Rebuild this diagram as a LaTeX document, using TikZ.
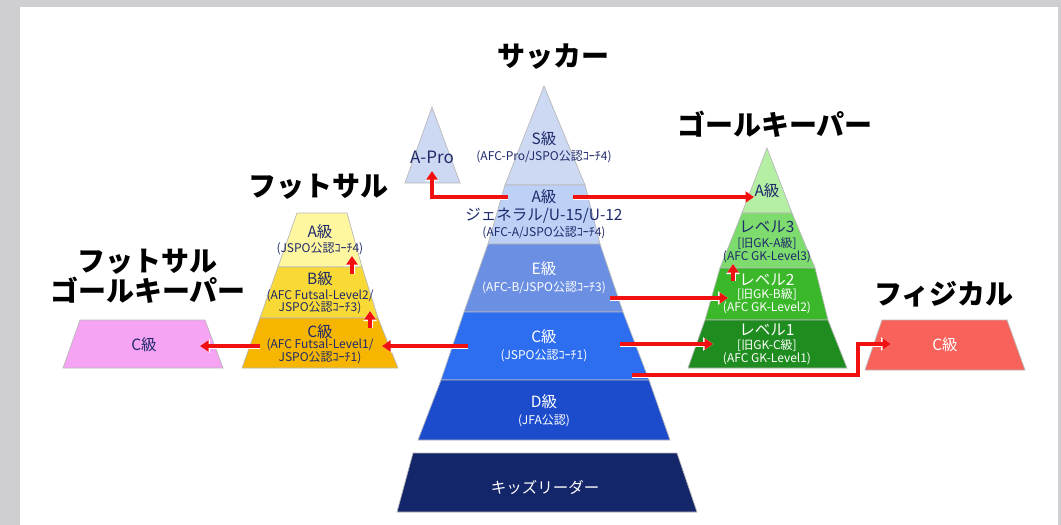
\documentclass[tikz,border=0pt]{standalone}
\usepackage{fontspec}
\setmainfont{Noto Sans CJK JP}
\newfontfamily\jp{Noto Sans CJK JP}
\usetikzlibrary{arrows.meta}
\definecolor{bggray}{HTML}{CFCFD2}
\definecolor{navy}{HTML}{1F2A6B}
\definecolor{sS}{HTML}{CDD9F3}
\definecolor{sA}{HTML}{BDD0F5}
\definecolor{sE}{HTML}{6A8FE3}
\definecolor{sC}{HTML}{2D6EF0}
\definecolor{sD}{HTML}{1C4CCC}
\definecolor{sK}{HTML}{14266A}
\definecolor{gA}{HTML}{B4EFA4}
\definecolor{g3}{HTML}{7DDC6D}
\definecolor{g2}{HTML}{3AB82A}
\definecolor{g1}{HTML}{1F8C1F}
\definecolor{fA}{HTML}{FFF7A0}
\definecolor{fB}{HTML}{F8D936}
\definecolor{fC}{HTML}{F6B600}
\definecolor{pinkc}{HTML}{F5A3F2}
\definecolor{physc}{HTML}{F8625A}
\definecolor{arr}{HTML}{F01010}
\tikzset{
  layer/.style={draw=gray!55, line width=0.7pt},
  ttl/.style={font=\jp\bfseries\fontsize{28}{28}\selectfont, text=black, inner sep=0pt},
  big/.style={font=\jp\fontsize{15.5}{16}\selectfont, inner sep=0pt},
  sml/.style={font=\jp\fontsize{12}{13}\selectfont, inner sep=0pt},
  redarrow/.style={draw=arr, line width=3.2pt, -{Triangle[length=8.5pt,width=11pt]},
     preaction={draw=white, line width=5pt, -{Triangle[length=10pt,width=13pt]}}},
}
\begin{document}
\begin{tikzpicture}[x=1pt,y={(0pt,-1pt)}]
\useasboundingbox (0,0) rectangle (1061,525);
\fill[bggray] (0,0) rectangle (1061,525);
\fill[white] (20,7) rectangle (1058,525);

% ---------- Soccer pyramid ----------
\filldraw[layer, fill=sS] (544,86) -- (585,185) -- (505,185) -- cycle;
\filldraw[layer, fill=sA] (505,185) -- (585,185) -- (600,244) -- (488,244) -- cycle;
\filldraw[layer, fill=sE] (488,244) -- (600,244) -- (623,312) -- (464,312) -- cycle;
\filldraw[layer, fill=sC] (464,312) -- (623,312) -- (649,380) -- (441,380) -- cycle;
\filldraw[layer, fill=sD] (441,380) -- (649,380) -- (670,440) -- (418,440) -- cycle;
\filldraw[layer, fill=sK] (413,453) -- (677,453) -- (697,512) -- (397,512) -- cycle;

% A-Pro
\filldraw[layer, fill=sS] (432,107) -- (460,183) -- (405,183) -- cycle;
\node[font=\jp\fontsize{17}{17}\selectfont, text=navy, inner sep=0pt] (apro) at (432,157) {A-Pro};

\node[ttl] (tsoccer) at (553,57) {サッカー};
\node[big, text=navy] (sS1) at (544,139) {S級};
\node[sml, text=navy] (sS2) at (544,157) {(AFC-Pro/JSPO公認ｺｰﾁ4)};
\node[big, text=navy] (sA1) at (544,197) {A級};
\node[big, text=navy] (sA2) at (544,216) {ジェネラル/U-15/U-12};
\node[sml, text=navy] (sA3) at (544,233) {(AFC-A/JSPO公認ｺｰﾁ4)};
\node[big, text=white] (sE1) at (544,269) {E級};
\node[sml, text=white] (sE2) at (544,288) {(AFC-B/JSPO公認ｺｰﾁ3)};
\node[big, text=white] (sC1) at (544,337) {C級};
\node[sml, text=white] (sC2) at (544,356) {(JSPO公認ｺｰﾁ1)};
\node[big, text=white] (sD1) at (544,402) {D級};
\node[sml, text=white] (sD2) at (544,421) {(JFA公認)};
\node[big, text=white] (sK1) at (545,487) {キッズリーダー};

% ---------- Goalkeeper pyramid ----------
\node[ttl] (tgk) at (775,124) {ゴールキーパー};
\filldraw[layer, fill=gA] (767,148) -- (792,213) -- (742,213) -- cycle;
\filldraw[layer, fill=g3] (742,213) -- (792,213) -- (815,268) -- (720,268) -- cycle;
\filldraw[layer, fill=g2] (720,268) -- (815,268) -- (828,320) -- (705,320) -- cycle;
\filldraw[layer, fill=g1] (705,320) -- (828,320) -- (847,368) -- (688,368) -- cycle;
\node[big, text=navy] (gA1) at (767,191) {A級};
\node[big, text=navy] (g31) at (767,227) {レベル3};
\node[sml, text=navy] (g32) at (767,243) {[旧GK-A級]};
\node[sml, text=navy] (g33) at (767,257) {(AFC GK-Level3)};
\node[big, text=white] (g21) at (767,280) {レベル2};
\node[sml, text=white] (g22) at (767,294) {[旧GK-B級]};
\node[sml, text=white] (g23) at (767,308) {(AFC GK-Level2)};
\node[big, text=white] (g11) at (767,330) {レベル1};
\node[sml, text=white] (g12) at (767,345) {[旧GK-C級]};
\node[sml, text=white] (g13) at (767,359) {(AFC GK-Level1)};

% ---------- Futsal pyramid ----------
\node[ttl] (tfut) at (318,187) {フットサル};
\filldraw[layer, fill=fA] (297,213) -- (347,213) -- (362,267) -- (278,267) -- cycle;
\filldraw[layer, fill=fB] (278,267) -- (362,267) -- (378,318) -- (260,318) -- cycle;
\filldraw[layer, fill=fC] (260,318) -- (378,318) -- (398,368) -- (242,368) -- cycle;
\node[big, text=navy] (fA1) at (320,232) {A級};
\node[sml, text=navy] (fA2) at (320,249) {(JSPO公認ｺｰﾁ4)};
\node[big, text=navy] (fB1) at (320,279) {B級};
\node[sml, text=navy] (fB2) at (320,296) {(AFC Futsal-Level2/};
\node[sml, text=navy] (fB3) at (320,308) {JSPO公認ｺｰﾁ3)};
\node[big, text=navy] (fC1) at (320,332) {C級};
\node[sml, text=navy] (fC2) at (320,345) {(AFC Futsal-Level1/};
\node[sml, text=navy] (fC3) at (320,358) {JSPO公認ｺｰﾁ1)};

% ---------- Futsal GK ----------
\node[ttl] (tfgk1) at (147,262) {フットサル};
\node[ttl] (tfgk2) at (148,290) {ゴールキーパー};
\filldraw[layer, fill=pinkc] (80,320) -- (205,320) -- (223,368) -- (63,368) -- cycle;
\node[big, text=navy] (pkC) at (144,345) {C級};

% ---------- Physical ----------
\node[ttl] (tphys) at (944,294) {フィジカル};
\filldraw[layer, fill=physc] (882,320) -- (1007,320) -- (1025,370) -- (865,370) -- cycle;
\node[big, text=white] (phC) at (945,345) {C級};

% ---------- arrow end points ----------
\coordinate (a1s) at (508,197);
\coordinate (a1m) at (432,197);
\coordinate (a1e) at (432,171);
\coordinate (a2s) at (573,197);
\coordinate (a2e) at (754,197);
\coordinate (a3s) at (610,298);
\coordinate (a3e) at (728,298);
\coordinate (a4s) at (620,344);
\coordinate (a4e) at (713,344);
\coordinate (a5s) at (632,375);
\coordinate (a5m) at (858,375);
\coordinate (a5n) at (858,344);
\coordinate (a5e) at (891,344);
\coordinate (a6s) at (468,346);
\coordinate (a6e) at (382,346);
\coordinate (a7s) at (260,346);
\coordinate (a7e) at (200,346);
\coordinate (u1s) at (370,328);
\coordinate (u1e) at (370,311);
\coordinate (u2s) at (352,274);
\coordinate (u2e) at (352,256);
\coordinate (u3s) at (733,281);
\coordinate (u3e) at (733,264);

\draw[redarrow] (a1s) -- (a1m) -- (a1e);
\draw[redarrow] (a2s) -- (a2e);
\draw[redarrow] (a3s) -- (a3e);
\draw[redarrow] (a4s) -- (a4e);
\draw[redarrow] (a5s) -- (a5m) -- (a5n) -- (a5e);
\draw[redarrow] (a6s) -- (a6e);
\draw[redarrow] (a7s) -- (a7e);
\draw[redarrow] (u1s) -- (u1e);
\draw[redarrow] (u2s) -- (u2e);
\draw[redarrow] (u3s) -- (u3e);
\end{tikzpicture}
\end{document}
